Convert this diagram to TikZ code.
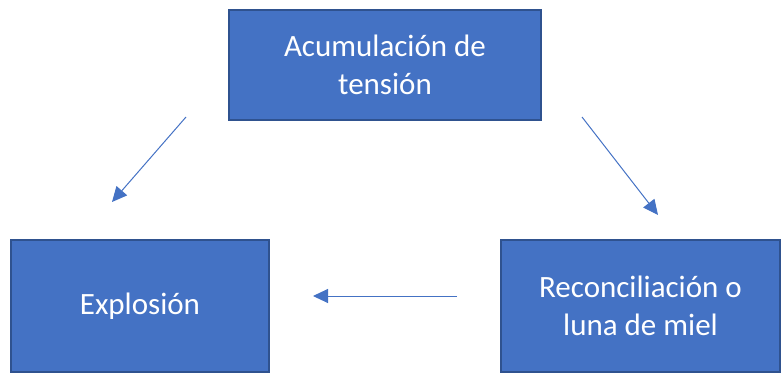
\documentclass[tikz,border=0pt]{standalone}
\usepackage{fontspec}
\setmainfont{Carlito}
\usetikzlibrary{arrows.meta}

\definecolor{azul}{HTML}{4472C4}
\definecolor{azuloscuro}{HTML}{2F528F}

\tikzset{
  caja/.style={draw=azuloscuro, line width=1.5pt, fill=azul, text=white,
    align=center, inner sep=0pt, font=\fontsize{31}{38}\selectfont},
  flecha/.style={draw=azul, line width=1pt, -{Triangle[length=15pt,width=14pt]}}
}

\begin{document}
\begin{tikzpicture}[x=1pt,y=-1pt]
  % --- MARCO ---
  \useasboundingbox (0,0) rectangle (782,374);

  % --- CAJAS DEL CICLO ---
  \node[caja, minimum width=312pt, minimum height=110pt] (tension) at (385,65)
    {Acumulación de\\tensión};
  \node[caja, minimum width=258pt, minimum height=132pt] (explosion) at (140,306)
    {Explosión};
  \node[caja, minimum width=279pt, minimum height=132pt] (luna) at (640.5,306)
    {Reconciliación o\\luna de miel};

  % --- PUNTOS DE LAS FLECHAS ---
  \coordinate (t1) at (186,117);
  \coordinate (e1) at (112,202);
  \coordinate (t2) at (582,117);
  \coordinate (l1) at (658,215);
  \coordinate (l2) at (457,296);
  \coordinate (e2) at (313,296);

  % --- FLECHAS ---
  \draw[flecha] (t1) -- (e1);
  \draw[flecha] (t2) -- (l1);
  \draw[flecha] (l2) -- (e2);
\end{tikzpicture}
\end{document}
